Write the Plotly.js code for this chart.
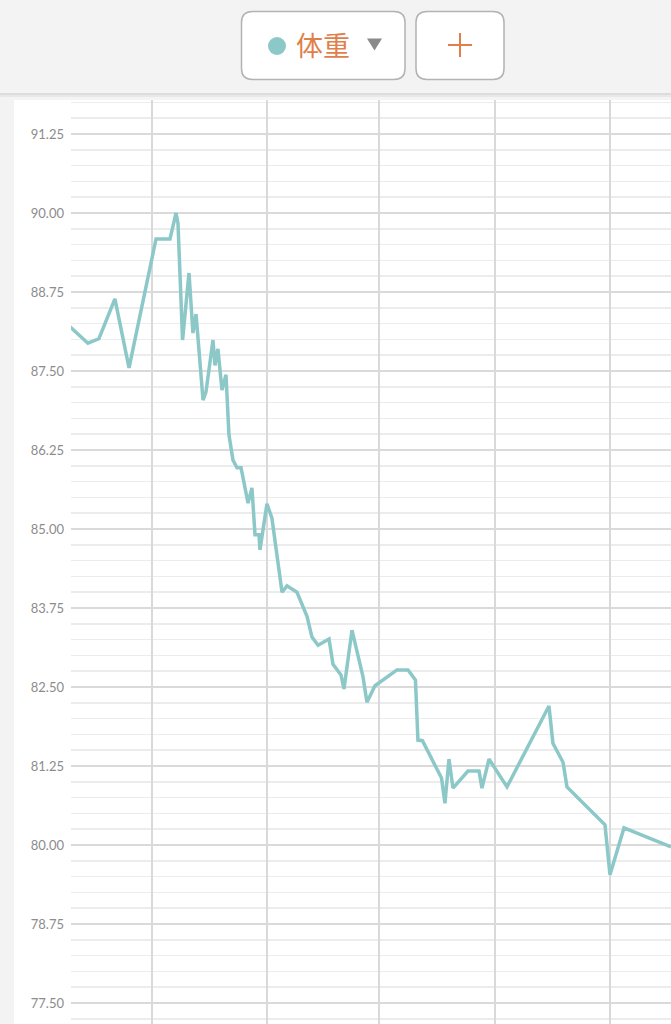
<!DOCTYPE html>
<html>
<head>
<meta charset="utf-8">
<script src="https://cdn.plot.ly/plotly-3.0.1.min.js"></script>
<style>
  html, body { margin: 0; padding: 0; background: #ffffff; }
  #chart { width: 671px; height: 1024px; }
</style>
</head>
<body>
<div id="chart"></div>
<script>
// ---- data ----
const dates = [
  "2019-09-09 00:00", "2019-09-13 19:00", "2019-09-16 18:00", "2019-09-21 01:00",
  "2019-09-24 20:00", "2019-10-02 02:00", "2019-10-05 20:00", "2019-10-07 11:00",
  "2019-10-07 23:30", "2019-10-09 05:00", "2019-10-10 22:30", "2019-10-12 00:00",
  "2019-10-12 20:00", "2019-10-14 17:00", "2019-10-15 12:00", "2019-10-17 09:00",
  "2019-10-17 22:00", "2019-10-18 17:00", "2019-10-19 19:00", "2019-10-20 21:00",
  "2019-10-21 16:00", "2019-10-22 18:00", "2019-10-23 20:00", "2019-10-24 22:00",
  "2019-10-26 19:00", "2019-10-27 20:00", "2019-10-28 16:00", "2019-10-29 17:30",
  "2019-10-30 00:00", "2019-10-31 21:00", "2019-11-02 05:00", "2019-11-03 20:00",
  "2019-11-04 22:00", "2019-11-06 06:00", "2019-11-08 22:30", "2019-11-11 15:00",
  "2019-11-12 23:00", "2019-11-14 14:00", "2019-11-17 13:00", "2019-11-18 14:30",
  "2019-11-20 18:00", "2019-11-21 13:30", "2019-11-23 17:00", "2019-11-26 16:00",
  "2019-11-27 17:30", "2019-11-29 21:00", "2019-12-05 19:00", "2019-12-08 18:00",
  "2019-12-10 18:00", "2019-12-11 10:00", "2019-12-12 15:00", "2019-12-17 18:00",
  "2019-12-18 16:00", "2019-12-19 18:00", "2019-12-20 20:00", "2019-12-24 20:30",
  "2019-12-27 19:30", "2019-12-28 14:30", "2019-12-30 12:00", "2020-01-04 08:00",
  "2020-01-15 14:30", "2020-01-16 16:00", "2020-01-19 09:00", "2020-01-20 10:30",
  "2020-01-30 15:30", "2020-01-31 23:45", "2020-02-04 18:00", "2020-02-17 09:00"
];
const weights = [
  88.20, 87.94, 88.01, 88.64,
  87.55, 89.59, 89.59, 90.00,
  89.84, 87.99, 89.05, 88.10,
  88.40, 87.04, 87.17, 87.99,
  87.59, 87.85, 87.20, 87.44,
  86.49, 86.09, 85.97, 85.97,
  85.41, 85.65, 84.91, 84.91,
  84.67, 85.40, 85.17, 84.43,
  84.00, 84.10, 84.00, 83.62,
  83.29, 83.16, 83.26, 82.86,
  82.69, 82.47, 83.40, 82.66,
  82.26, 82.52, 82.77, 82.77,
  82.61, 81.66, 81.65, 81.06,
  80.66, 81.36, 80.90, 81.17,
  81.17, 80.90, 81.36, 80.92,
  82.20, 81.61, 81.31, 80.92,
  80.32, 79.53, 80.27, 79.97
];
const seriesName = "体重";

// ---- layout helpers (pixel -> paper) ----
const W = 671, H = 1024, L = 71, T = 100;
const fx = p => (p - L) / (W - L);
const fy = p => (H - p) / (H - T);

function roundRect(x0, y0, x1, y1, r) {
  const rx = r / (W - L), ry = r / (H - T);
  const X0 = fx(x0), X1 = fx(x1), Y0 = fy(y0), Y1 = fy(y1);
  return `M${X0 + rx},${Y0} L${X1 - rx},${Y0} Q${X1},${Y0} ${X1},${Y0 - ry} ` +
         `L${X1},${Y1 + ry} Q${X1},${Y1} ${X1 - rx},${Y1} L${X0 + rx},${Y1} ` +
         `Q${X0},${Y1} ${X0},${Y1 + ry} L${X0},${Y0 - ry} Q${X0},${Y0} ${X0 + rx},${Y0} Z`;
}

const teal = "#8cc8c8";
const orange = "#e07f4c";

const shapes = [
  // header background
  {type: "rect", xref: "paper", yref: "paper", x0: fx(0), x1: fx(W), y0: fy(93), y1: fy(0),
   fillcolor: "#f3f3f3", line: {width: 0}, layer: "below"},
  // header shadow
  {type: "rect", xref: "paper", yref: "paper", x0: fx(0), x1: fx(W), y0: fy(95), y1: fy(93),
   fillcolor: "#dcdcdc", line: {width: 0}, layer: "below"},
  {type: "rect", xref: "paper", yref: "paper", x0: fx(0), x1: fx(W), y0: fy(97), y1: fy(95),
   fillcolor: "#e8e8e8", line: {width: 0}, layer: "below"},
  {type: "rect", xref: "paper", yref: "paper", x0: fx(0), x1: fx(W), y0: fy(100), y1: fy(97),
   fillcolor: "#f4f4f4", line: {width: 0}, layer: "below"},
  // left strip
  {type: "rect", xref: "paper", yref: "paper", x0: fx(0), x1: fx(14), y0: fy(H), y1: fy(100),
   fillcolor: "#f3f3f3", line: {width: 0}, layer: "below"},
  // button 1
  {type: "path", xref: "paper", yref: "paper", path: roundRect(241.5, 11.5, 405, 79.5, 11),
   fillcolor: "#ffffff", line: {color: "#b3b3b3", width: 1.5}},
  // button 2
  {type: "path", xref: "paper", yref: "paper", path: roundRect(416, 11.5, 504, 79.5, 11),
   fillcolor: "#ffffff", line: {color: "#b3b3b3", width: 1.5}},
  // legend dot
  {type: "circle", xref: "paper", yref: "paper", x0: fx(268), x1: fx(286), y0: fy(55), y1: fy(37),
   fillcolor: teal, line: {width: 0}},
  // dropdown triangle
  {type: "path", xref: "paper", yref: "paper",
   path: `M${fx(367)},${fy(38.5)} L${fx(382)},${fy(38.5)} L${fx(374.5)},${fy(50.5)} Z`,
   fillcolor: "#8a8a8a", line: {width: 0}},
  // plus icon
  {type: "line", xref: "paper", yref: "paper", x0: fx(448), x1: fx(472), y0: fy(45), y1: fy(45),
   line: {color: orange, width: 2}},
  {type: "line", xref: "paper", yref: "paper", x0: fx(460), x1: fx(460), y0: fy(33), y1: fy(57),
   line: {color: orange, width: 2}}
];

const annotations = [
  {xref: "paper", yref: "paper", x: fx(322.5), y: fy(45), text: seriesName, showarrow: false,
   xanchor: "center", yanchor: "middle",
   font: {family: "Noto Sans CJK JP", size: 27, color: orange}}
];

const trace = {
  x: dates, y: weights, type: "scatter", mode: "lines", name: seriesName,
  line: {color: teal, width: 3.5, shape: "linear"},
  hoverinfo: "skip"
};

const layout = {
  width: W, height: H,
  margin: {l: L, r: 0, t: T, b: 0, pad: 0},
  paper_bgcolor: "#ffffff",
  plot_bgcolor: "rgba(0,0,0,0)",
  showlegend: false,
  xaxis: {
    type: "date",
    range: ["2019-09-09 06:00", "2020-02-17 09:00"],
    tick0: "2019-10-01", dtick: "M1",
    showticklabels: false, ticks: "",
    showgrid: true, gridcolor: "#d9d9d9", gridwidth: 2,
    zeroline: false, showline: false, fixedrange: true
  },
  yaxis: {
    range: [77.168, 91.788],
    tick0: 77.5, dtick: 1.25, tickformat: ".2f",
    ticks: "", ticklabelstandoff: 6,
    tickfont: {family: "Lato, Open Sans, sans-serif", size: 13, color: "#8c8c8c"},
    showgrid: true, gridcolor: "#dadada", gridwidth: 2,
    minor: {dtick: 0.25, tick0: 77.5, showgrid: true, gridcolor: "#ececec", gridwidth: 1.5},
    zeroline: false, showline: false, fixedrange: true
  },
  shapes: shapes,
  annotations: annotations
};

Plotly.newPlot("chart", [trace], layout, {staticPlot: true, displayModeBar: false});
</script>
</body>
</html>
